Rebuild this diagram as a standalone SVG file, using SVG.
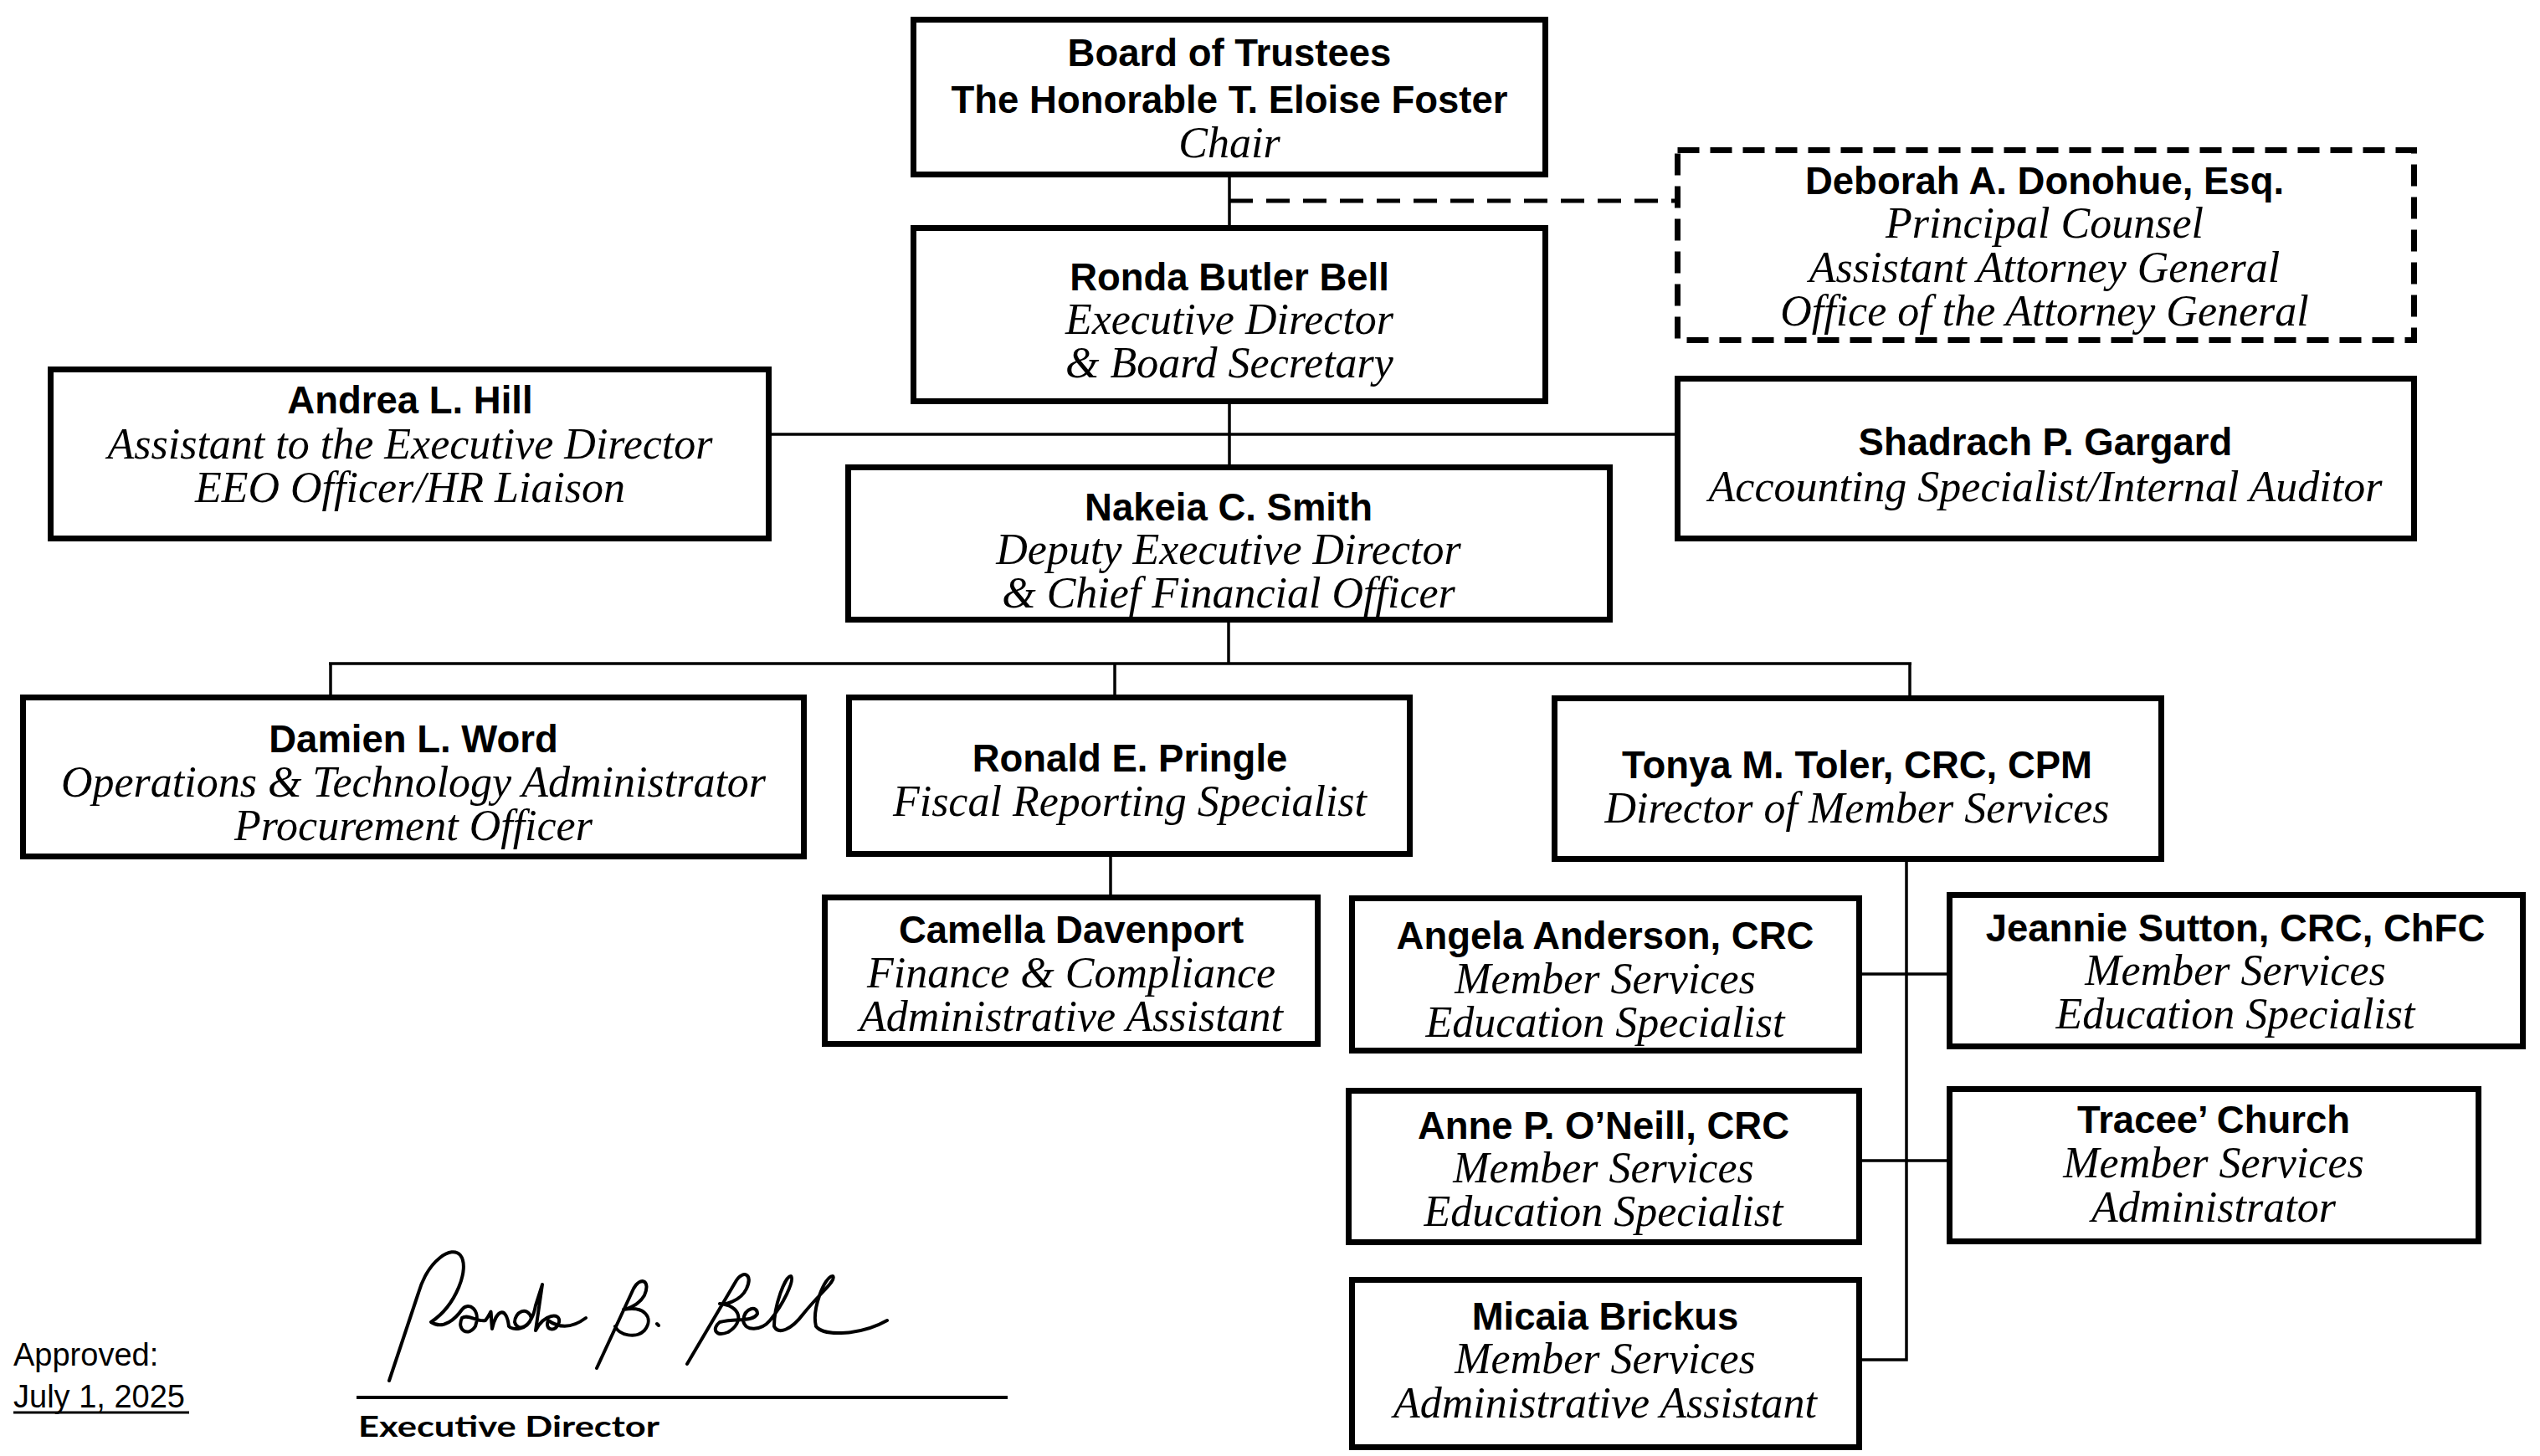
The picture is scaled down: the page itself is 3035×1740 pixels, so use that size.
<svg xmlns="http://www.w3.org/2000/svg" width="3035" height="1740" viewBox="0 0 3035 1740">
<style>
.box{fill:#fff;stroke:#000;stroke-width:7}
.dbox{fill:#fff;stroke:#000;stroke-width:7;stroke-dasharray:26 13}
.n{font-family:"Liberation Sans",Arial,sans-serif;font-weight:bold;font-size:45.5px;text-anchor:middle;fill:#000}
.t{font-family:"Liberation Serif","Times New Roman",serif;font-style:italic;font-size:52px;text-anchor:middle;fill:#000}
.c{stroke:#000;stroke-width:3.5;fill:none}
.cd{stroke:#000;stroke-width:5;fill:none;stroke-dasharray:28 16}
.small{font-family:"Liberation Sans",Arial,sans-serif;font-size:38px;fill:#000}
.sig{fill:none;stroke:#000;stroke-width:4;stroke-linecap:round;stroke-linejoin:round}
</style>
<rect width="3035" height="1740" fill="#fff"/>
<g id="connectors">
<line class="c" x1="1469" y1="212" x2="1469" y2="269"/>
<line class="cd" x1="1469" y1="240" x2="2001" y2="240"/>
<line class="c" x1="1469" y1="483" x2="1469" y2="555"/>
<line class="c" x1="922" y1="519" x2="2001" y2="519"/>
<line class="c" x1="1468" y1="744" x2="1468" y2="793"/>
<line class="c" x1="393" y1="793" x2="2284" y2="793"/>
<line class="c" x1="395" y1="793" x2="395" y2="830"/>
<line class="c" x1="1332" y1="793" x2="1332" y2="830"/>
<line class="c" x1="2282" y1="793" x2="2282" y2="831"/>
<line class="c" x1="1327" y1="1024" x2="1327" y2="1069"/>
<polyline class="c" points="2278,1030 2278,1625 2225,1625"/>
<line class="c" x1="2225" y1="1164" x2="2326" y2="1164"/>
<line class="c" x1="2225" y1="1387" x2="2326" y2="1387"/>
</g>
<g id="board">
<rect class="box" x="1091.5" y="23.5" width="755" height="185"/>
<text class="n" x="1469" y="79">Board of Trustees</text>
<text class="n" x="1469" y="135">The Honorable T. Eloise Foster</text>
<text class="t" x="1469" y="188">Chair</text>
</g>
<g id="deborah">
<rect class="dbox" x="2004.5" y="179.5" width="880" height="227"/>
<text class="n" x="2443" y="232">Deborah A. Donohue, Esq.</text>
<text class="t" x="2443" y="284">Principal Counsel</text>
<text class="t" x="2443" y="337">Assistant Attorney General</text>
<text class="t" x="2443" y="389">Office of the Attorney General</text>
</g>
<g id="ronda">
<rect class="box" x="1091.5" y="272.5" width="755" height="207"/>
<text class="n" x="1469" y="347">Ronda Butler Bell</text>
<text class="t" x="1469" y="399">Executive Director</text>
<text class="t" x="1469" y="451">&amp; Board Secretary</text>
</g>
<g id="andrea">
<rect class="box" x="60.5" y="441.5" width="858" height="202"/>
<text class="n" x="490" y="494">Andrea L. Hill</text>
<text class="t" x="490" y="548">Assistant to the Executive Director</text>
<text class="t" x="490" y="600">EEO Officer/HR Liaison</text>
</g>
<g id="shadrach">
<rect class="box" x="2004.5" y="452.5" width="880" height="191"/>
<text class="n" x="2444" y="544">Shadrach P. Gargard</text>
<text class="t" x="2444" y="599">Accounting Specialist/Internal Auditor</text>
</g>
<g id="nakeia">
<rect class="box" x="1013.5" y="558.5" width="910" height="182"/>
<text class="n" x="1468" y="622">Nakeia C. Smith</text>
<text class="t" x="1468" y="674">Deputy Executive Director</text>
<text class="t" x="1468" y="726">&amp; Chief Financial Officer</text>
</g>
<g id="damien">
<rect class="box" x="27.5" y="833.5" width="933" height="190"/>
<text class="n" x="494" y="899">Damien L. Word</text>
<text class="t" x="494" y="952">Operations &amp; Technology Administrator</text>
<text class="t" x="494" y="1004">Procurement Officer</text>
</g>
<g id="ronald">
<rect class="box" x="1014.5" y="833.5" width="670" height="187"/>
<text class="n" x="1350" y="922">Ronald E. Pringle</text>
<text class="t" x="1350" y="975">Fiscal Reporting Specialist</text>
</g>
<g id="tonya">
<rect class="box" x="1857.5" y="834.5" width="725" height="192"/>
<text class="n" x="2219" y="930">Tonya M. Toler, CRC, CPM</text>
<text class="t" x="2219" y="983">Director of Member Services</text>
</g>
<g id="camella">
<rect class="box" x="985.5" y="1072.5" width="589" height="175"/>
<text class="n" x="1280" y="1127">Camella Davenport</text>
<text class="t" x="1280" y="1180">Finance &amp; Compliance</text>
<text class="t" x="1280" y="1232">Administrative Assistant</text>
</g>
<g id="angela">
<rect class="box" x="1615.5" y="1073.5" width="606" height="182"/>
<text class="n" x="1918" y="1134">Angela Anderson, CRC</text>
<text class="t" x="1918" y="1187">Member Services</text>
<text class="t" x="1918" y="1239">Education Specialist</text>
</g>
<g id="jeannie">
<rect class="box" x="2329.5" y="1069.5" width="685" height="181"/>
<text class="n" x="2671" y="1125">Jeannie Sutton, CRC, ChFC</text>
<text class="t" x="2671" y="1177">Member Services</text>
<text class="t" x="2671" y="1229">Education Specialist</text>
</g>
<g id="anne">
<rect class="box" x="1611.5" y="1303.5" width="610" height="181"/>
<text class="n" x="1916" y="1361">Anne P. O’Neill, CRC</text>
<text class="t" x="1916" y="1413">Member Services</text>
<text class="t" x="1916" y="1465">Education Specialist</text>
</g>
<g id="tracee">
<rect class="box" x="2329.5" y="1301.5" width="632" height="182"/>
<text class="n" x="2645" y="1354">Tracee’ Church</text>
<text class="t" x="2645" y="1407">Member Services</text>
<text class="t" x="2645" y="1460">Administrator</text>
</g>
<g id="micaia">
<rect class="box" x="1615.5" y="1529.5" width="606" height="200"/>
<text class="n" x="1918" y="1589">Micaia Brickus</text>
<text class="t" x="1918" y="1641">Member Services</text>
<text class="t" x="1918" y="1694">Administrative Assistant</text>
</g>
<g id="approval">
<text class="small" x="16" y="1632">Approved:</text>
<text class="small" x="16" y="1682">July 1, 2025</text>
<line x1="16" y1="1688" x2="226" y2="1688" stroke="#000" stroke-width="3"/>
<path class="sig" d="M465,1650 L500,1545 C512,1505 540,1488 550,1500 C562,1515 545,1560 515,1580 C530,1590 545,1575 552,1565 C560,1555 575,1565 568,1585 C560,1598 545,1590 552,1575 C560,1570 570,1580 580,1578 C590,1565 585,1560 588,1588 C593,1565 605,1560 608,1585 C612,1590 630,1590 635,1575 C630,1560 615,1568 615,1580 C618,1592 635,1588 640,1560 L648,1535 L640,1590 C650,1570 670,1568 668,1580 C665,1593 650,1590 655,1578 C665,1585 680,1590 700,1575"/>
<path class="sig" d="M713,1635 L757,1540 C765,1525 778,1530 770,1548 C762,1562 745,1565 745,1565 C770,1560 782,1575 770,1590 C760,1600 740,1596 735,1585 M785,1582 l2,2"/>
<path class="sig" d="M821,1630 L880,1530 C888,1518 900,1522 892,1540 C885,1555 865,1560 860,1558 C885,1560 890,1580 870,1592 C855,1598 850,1588 860,1580 C880,1575 900,1580 905,1570 C905,1560 890,1562 888,1578 C890,1592 910,1590 920,1578 C935,1560 950,1530 945,1525 C938,1525 925,1560 925,1585 C930,1595 945,1590 960,1570 C980,1545 1000,1530 995,1525 C985,1525 970,1565 975,1585 C985,1598 1030,1595 1060,1578"/>
<line x1="426" y1="1670" x2="1204" y2="1670" stroke="#000" stroke-width="4"/>
<text x="428" y="1717" font-family="Lato,'Liberation Sans',sans-serif" font-weight="bold" font-size="35" textLength="360" lengthAdjust="spacingAndGlyphs" fill="#000">Executive Director</text>
</g>
</svg>
